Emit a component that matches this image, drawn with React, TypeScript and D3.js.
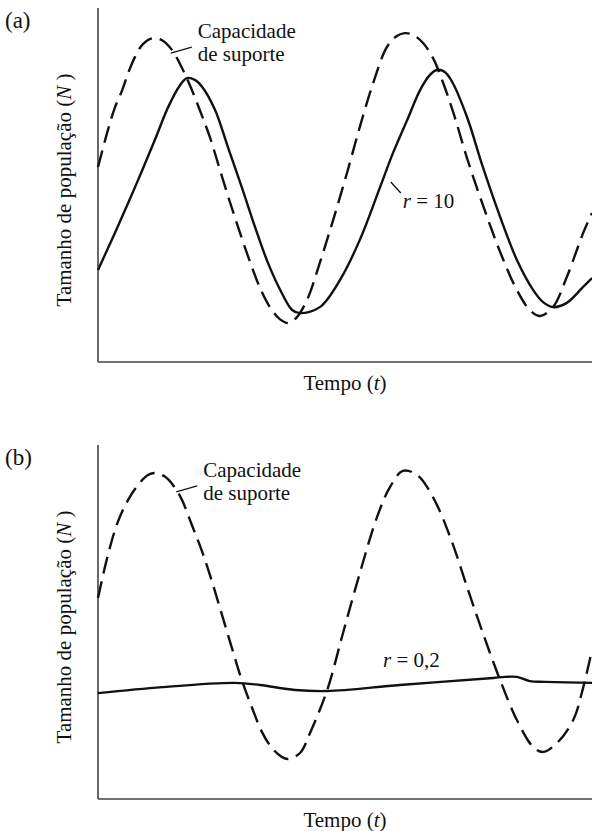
import React from "react";
import { scaleLinear, line, curveCatmullRom } from "d3";

// panel (a): carrying capacity (dashed) and population with r = 10 (solid)
const capTimeA = [0, 2.0, 3.4, 4.9, 6.1, 7.5, 9.1, 11.1, 13.2, 15.0, 16.6, 18.6, 20.6, 22.7, 24.7, 26.7, 28.7, 30.8, 32.8, 34.8, 36.8, 38.5, 40.1, 42.3, 44.9, 47.6, 50.4, 53.0, 55.7, 58.5, 60.5, 62.1, 63.8, 65.8, 67.8, 69.8, 71.9, 74.7, 77.9, 81.4, 84.8, 87.4, 89.5, 92.1, 94.9, 98.2, 100];
const capValuesA = [55.1, 65.5, 71.8, 76.8, 81.6, 86.2, 89.8, 91.5, 90.7, 88.1, 84.2, 78.2, 71.2, 63.3, 54.2, 45.2, 36.7, 28.2, 20.9, 15.5, 12.1, 11.0, 12.4, 17.5, 28.0, 40.1, 53.4, 66.4, 78.8, 89.0, 92.1, 92.9, 92.4, 90.1, 85.9, 79.1, 70.6, 57.6, 44.4, 31.1, 20.3, 14.7, 13.0, 15.5, 24.0, 36.4, 42.1];
const popTimeA = [0, 3.4, 7.5, 11.5, 14.2, 16.6, 18.0, 19.6, 21.1, 23.7, 26.3, 29.1, 31.8, 34.4, 37.2, 39.3, 40.9, 44.9, 49.0, 53.0, 57.1, 59.7, 62.6, 65.2, 67.2, 68.6, 70.2, 71.7, 74.7, 77.9, 81.4, 84.8, 88.1, 90.1, 92.1, 94.9, 98.2, 100];
const popValuesA = [26.0, 36.4, 49.4, 62.7, 72.0, 78.2, 80.2, 79.7, 77.7, 71.2, 60.7, 49.4, 38.1, 28.0, 19.5, 14.7, 13.8, 15.5, 23.2, 34.5, 49.4, 59.0, 68.4, 76.8, 81.1, 82.5, 81.9, 79.1, 69.2, 55.1, 41.0, 28.8, 20.3, 16.9, 15.5, 16.7, 21.2, 23.7];

// panel (b): carrying capacity (dashed) and population with r = 0,2 (solid)
const capTimeB = [0, 2.0, 4.0, 6.1, 8.1, 10.1, 11.5, 13.6, 15.6, 17.0, 19.0, 21.1, 23.1, 25.1, 27.1, 29.1, 31.2, 33.2, 35.2, 37.2, 38.5, 40.9, 42.9, 46.4, 49.6, 53.0, 56.5, 59.1, 61.7, 64.6, 67.8, 71.3, 74.7, 77.9, 81.4, 84.8, 88.1, 90.1, 92.9, 96.2, 98.2, 100];
const capValuesB = [56.8, 68.9, 78.2, 84.5, 88.7, 91.5, 92.1, 91.0, 87.9, 84.5, 77.4, 69.8, 61.3, 52.0, 42.7, 33.6, 25.7, 18.9, 14.4, 11.9, 11.3, 13.0, 18.6, 30.8, 46.9, 63.8, 79.7, 88.1, 92.7, 91.5, 85.3, 74.0, 59.9, 46.9, 33.6, 22.3, 14.7, 13.3, 15.8, 22.3, 31.4, 42.1];
const popTimeB = [0, 13.0, 27.7, 32.8, 39.9, 46.4, 61.1, 80.0, 82.4, 84.8, 87.4, 90.5, 100];
const popValuesB = [29.9, 31.6, 32.8, 32.2, 30.8, 30.5, 32.2, 34.2, 34.5, 34.5, 33.3, 33.1, 32.8];

const FONT = "'Liberation Serif'";
const WIDTH = 592;
const HEIGHT = 831;
const AXIS_LEFT = 98;

const xScale = scaleLinear().domain([0, 100]).range([AXIS_LEFT, WIDTH]);

type Pt = [number, number];
const zip = (ts: number[], vs: number[]): Pt[] => ts.map((t, i) => [t, vs[i]]);

const txt = { fontFamily: FONT, fontSize: 21, fill: "#111" };

const Panel: React.FC<{
  label: string;
  top: number;
  bottom: number;
  capT: number[];
  capV: number[];
  popT: number[];
  popV: number[];
  rLabel: string;
  rPos: Pt;
  rLeader?: boolean;
  capPos: Pt;
}> = ({ label, top, bottom, capT, capV, popT, popV, rLabel, rPos, rLeader, capPos }) => {
  const yScale = scaleLinear().domain([0, 100]).range([bottom, top]);
  const path = line<Pt>()
    .x(d => xScale(d[0]))
    .y(d => yScale(d[1]))
    .curve(curveCatmullRom.alpha(0.5));

  const rx = xScale(rPos[0]);
  const ry = yScale(rPos[1]);
  const cx = xScale(capPos[0]);
  const cy = yScale(capPos[1]);

  return (
    <g>
      <text x={5} y={top + 20} style={{ ...txt, fontSize: 23 }}>
        {label}
      </text>

      {/* axes */}
      <line x1={AXIS_LEFT} x2={AXIS_LEFT} y1={top} y2={bottom} stroke="#444" strokeWidth={1.6} />
      <line x1={AXIS_LEFT} x2={WIDTH} y1={bottom} y2={bottom} stroke="#444" strokeWidth={1.6} />

      <path d={path(zip(capT, capV))!} fill="none" stroke="#111" strokeWidth={2.4} strokeDasharray="17 8" />
      <path d={path(zip(popT, popV))!} fill="none" stroke="#111" strokeWidth={2.4} />

      {/* carrying capacity annotation */}
      <line x1={cx - 27} y1={cy + 15} x2={cx - 6} y2={cy + 9} stroke="#111" strokeWidth={1.3} />
      <text x={cx} y={cy} style={txt}>
        Capacidade
      </text>
      <text x={cx} y={cy + 23} style={txt}>
        de suporte
      </text>

      {/* r annotation */}
      {rLeader && <line x1={rx - 12} y1={ry - 26} x2={rx - 2} y2={ry - 15} stroke="#111" strokeWidth={1.3} />}
      <text x={rx} y={ry} style={txt}>
        <tspan fontStyle="italic">r</tspan> = {rLabel}
      </text>

      <text x={345} y={bottom + 28} textAnchor="middle" style={txt}>
        Tempo (<tspan fontStyle="italic">t</tspan>)
      </text>
      <text
        transform={`translate(71, ${(top + bottom) / 2 + 5}) rotate(-90)`}
        textAnchor="middle"
        style={txt}
      >
        Tamanho de população (<tspan fontStyle="italic">N</tspan> )
      </text>
    </g>
  );
};

export default function App() {
  return (
    <svg
      width={WIDTH}
      height={HEIGHT}
      style={{ position: "absolute", left: 0, top: 0, background: "#fff" }}
    >
      <rect width={WIDTH} height={HEIGHT} fill="#fff" />
      <Panel
        label="(a)"
        top={8}
        bottom={362}
        capT={capTimeA}
        capV={capValuesA}
        popT={popTimeA}
        popV={popValuesA}
        rLabel="10"
        rPos={[61.7, 43.5]}
        rLeader
        capPos={[20.2, 91.5]}
      />
      <Panel
        label="(b)"
        top={445}
        bottom={799}
        capT={capTimeB}
        capV={capValuesB}
        popT={popTimeB}
        popV={popValuesB}
        rLabel="0,2"
        rPos={[57.7, 37.3]}
        capPos={[21.3, 91.0]}
      />
    </svg>
  );
}
